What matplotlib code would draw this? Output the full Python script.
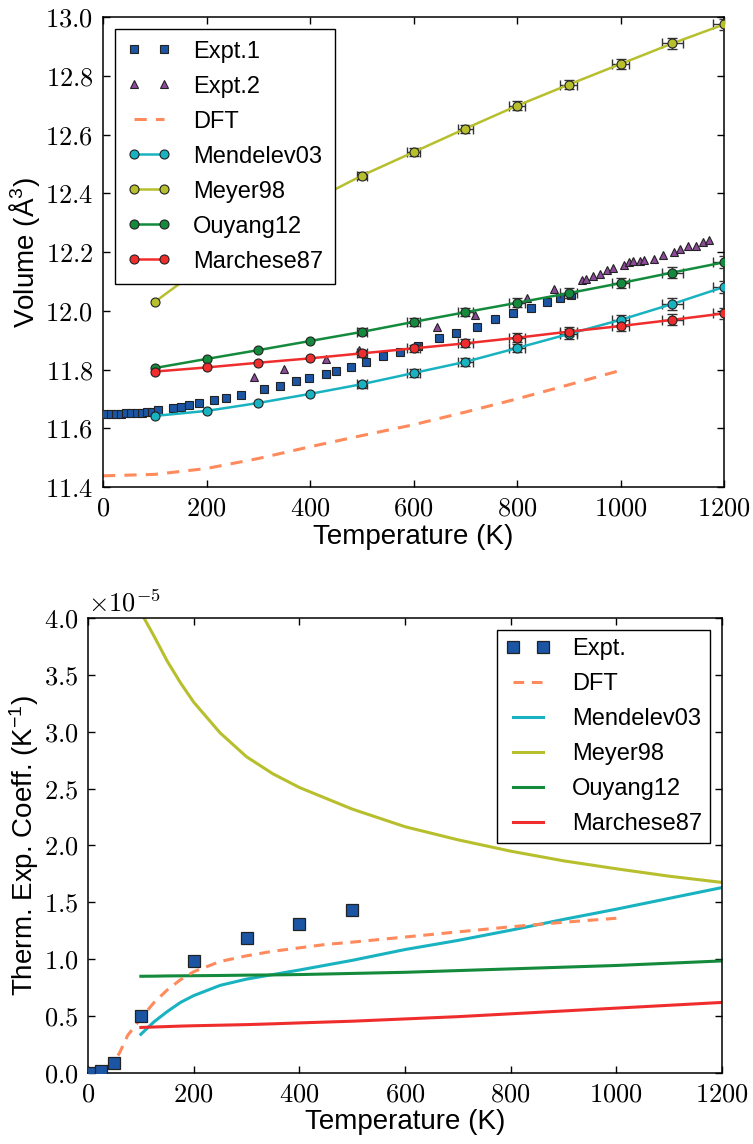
import matplotlib
matplotlib.use("Agg")
import matplotlib.pyplot as plt
import numpy as np
from matplotlib.ticker import FuncFormatter, MultipleLocator

plt.rcParams["font.family"] = ["Liberation Sans", "DejaVu Sans"]
plt.rcParams["mathtext.fontset"] = "cm"

# colours
C_EXPT1 = "#1b55a4"
C_EXPT2 = "#8d4a9a"
C_DFT = "#ff8a5c"
C_MEND = "#19b2c0"
C_MEYER = "#b7bf2d"
C_OUY = "#138a3c"
C_MARCH = "#f02d2d"

# ---------------- volume data ----------------
expt1_T = [5, 15, 25, 35, 45, 55, 65, 75, 85, 95, 107, 135, 151, 167, 186, 215, 238, 266,
           312, 342, 372, 398, 430, 450, 479, 508, 542, 574, 609, 650, 682, 722, 758, 793,
           827, 857, 884, 904]
expt1_V = [11.650, 11.650, 11.650, 11.650, 11.651, 11.651, 11.652, 11.653, 11.655, 11.657,
           11.662, 11.668, 11.673, 11.678, 11.685, 11.696, 11.704, 11.713, 11.734, 11.745,
           11.760, 11.771, 11.786, 11.796, 11.810, 11.826, 11.845, 11.861, 11.881, 11.906,
           11.923, 11.946, 11.971, 11.991, 12.010, 12.031, 12.044, 12.054]

expt2_T = [292, 350, 431, 495, 646, 719, 820, 871, 925, 933, 947, 960, 974, 986, 1007, 1016,
           1024, 1038, 1046, 1065, 1083, 1103, 1115, 1131, 1145, 1160, 1171]
expt2_V = [11.776, 11.802, 11.836, 11.866, 11.946, 11.986, 12.042, 12.075, 12.104, 12.109,
           12.120, 12.125, 12.138, 12.146, 12.157, 12.165, 12.168, 12.170, 12.172, 12.176,
           12.189, 12.200, 12.210, 12.219, 12.221, 12.233, 12.242]

dft_T = [0, 100, 200, 300, 400, 500, 600, 700, 800, 900, 1000]
dft_V = [11.438, 11.443, 11.463, 11.497, 11.537, 11.575, 11.612, 11.655, 11.700, 11.748, 11.797]

model_T = [100, 200, 300, 400, 500, 600, 700, 800, 900, 1000, 1100, 1200]
mendelev_V = [11.642, 11.659, 11.686, 11.717, 11.750, 11.788, 11.826, 11.873, 11.921, 11.969, 12.023, 12.081]
meyer_V = [12.030, 12.160, 12.270, 12.370, 12.460, 12.540, 12.620, 12.698, 12.770, 12.840, 12.910, 12.975]
ouyang_V = [11.805, 11.836, 11.866, 11.897, 11.928, 11.962, 11.995, 12.027, 12.060, 12.094, 12.130, 12.165]
marchese_V = [11.793, 11.807, 11.823, 11.838, 11.855, 11.872, 11.889, 11.908, 11.929, 11.948, 11.969, 11.991]
model_Terr = [0, 0, 0, 0, 10, 12, 14, 15, 16, 17, 20, 22]
model_Verr = [0, 0, 0, 0, 0.012, 0.013, 0.014, 0.015, 0.016, 0.017, 0.019, 0.020]

# ---------------- thermal expansion data (units of 1e-5 / K) ----------------
alpha_expt_T = [10, 25, 50, 100, 200, 300, 400, 500]
alpha_expt = [0.0, 0.02, 0.09, 0.50, 0.985, 1.19, 1.31, 1.43]

alpha_dft_T = [0, 25, 50, 60, 75, 100, 125, 150, 175, 200, 250, 300, 350, 400, 450, 500,
               600, 700, 800, 900, 1000]
alpha_dft = [0.0, 0.015, 0.10, 0.18, 0.33, 0.48, 0.62, 0.73, 0.82, 0.89, 0.98, 1.03, 1.07,
             1.10, 1.13, 1.15, 1.195, 1.24, 1.285, 1.325, 1.36]

alpha_T = [100, 125, 150, 175, 200, 250, 300, 350, 400, 500, 600, 700, 800, 900, 1000, 1100, 1200]
alpha_mendelev = [0.34, 0.45, 0.54, 0.62, 0.68, 0.77, 0.825, 0.865, 0.905, 0.99, 1.085,
                  1.165, 1.255, 1.35, 1.44, 1.535, 1.63]
alpha_meyer = [4.05, 3.84, 3.62, 3.43, 3.26, 2.99, 2.78, 2.63, 2.51, 2.32, 2.165, 2.05,
               1.95, 1.865, 1.795, 1.73, 1.675]
alpha_ouyang = [0.85, 0.851, 0.853, 0.854, 0.855, 0.857, 0.86, 0.862, 0.865, 0.875, 0.885,
                0.90, 0.915, 0.93, 0.945, 0.965, 0.985]
alpha_marchese = [0.40, 0.404, 0.408, 0.412, 0.415, 0.42, 0.425, 0.432, 0.44, 0.455, 0.475,
                  0.495, 0.52, 0.545, 0.57, 0.595, 0.62]


def style_axes(ax, ydec):
    ax.tick_params(which="both", direction="in", top=True, right=True,
                   length=5, width=1, labelsize=19, pad=7)
    ax.xaxis.set_major_locator(MultipleLocator(200))
    ax.xaxis.set_major_formatter(FuncFormatter(lambda v, p: f"${v:.0f}$"))
    ax.yaxis.set_major_formatter(FuncFormatter(lambda v, p: f"${v:.{ydec}f}$"))
    for sp in ax.spines.values():
        sp.set_linewidth(1.1)


def add_legend(ax, loc, pad):
    leg = ax.legend(loc=loc, numpoints=2, fontsize=17, fancybox=False, framealpha=1,
                    edgecolor="black", handlelength=1.9, handletextpad=0.9, labelspacing=0.55,
                    borderpad=pad, borderaxespad=0.5)
    leg.get_frame().set_linewidth(1.0)
    leg.set_zorder(10)
    return leg


fig = plt.figure(figsize=(7.53, 11.44), dpi=100)
ax1 = fig.add_axes([0.1368, 0.5743, 0.9615 - 0.1368, 0.9851 - 0.5743])
ax2 = fig.add_axes([0.1169, 0.0621, 0.9588 - 0.1169, 0.4598 - 0.0621])

# top panel: volume
lw = 1.8
mk = dict(marker="o", markersize=6.5, markeredgecolor="#222222", markeredgewidth=0.8)
ax1.plot(expt1_T, expt1_V, "s", color=C_EXPT1, markersize=5.8, markeredgecolor="#222222",
         markeredgewidth=0.8, label="Expt.1", zorder=4)
ax1.plot(expt2_T, expt2_V, "^", color=C_EXPT2, markersize=6, markeredgecolor="#222222",
         markeredgewidth=0.8, label="Expt.2", zorder=4)
ax1.plot(dft_T, dft_V, "--", color=C_DFT, lw=2.2, dashes=(4, 3), label="DFT")
for vals, col, name in [(mendelev_V, C_MEND, "Mendelev03"), (meyer_V, C_MEYER, "Meyer98"),
                        (ouyang_V, C_OUY, "Ouyang12"), (marchese_V, C_MARCH, "Marchese87")]:
    ax1.plot(model_T, vals, "-", color=col, lw=lw, markerfacecolor=col, label=name, zorder=5, **mk)
    sel = [i for i, e in enumerate(model_Terr) if e > 0]
    ax1.errorbar([model_T[i] for i in sel], [vals[i] for i in sel],
                 xerr=[model_Terr[i] for i in sel], yerr=[model_Verr[i] for i in sel],
                 fmt="none", ecolor="#333333", elinewidth=1.0, capsize=3.5, capthick=1.0, zorder=4)

ax1.set_xlim(0, 1200)
ax1.set_ylim(11.4, 13.0)
ax1.yaxis.set_major_locator(MultipleLocator(0.2))
style_axes(ax1, 1)
ax1.set_xlabel("Temperature (K)", fontsize=20, labelpad=2)
ax1.set_ylabel("Volume (Å$\\mathregular{^3}$)", fontsize=20, labelpad=2)
add_legend(ax1, "upper left", 0.5)

# bottom panel: thermal expansion coefficient
lw2 = 2.2
ax2.plot(alpha_expt_T, alpha_expt, "s", color=C_EXPT1, markersize=8, markeredgecolor="#222222",
         markeredgewidth=0.9, label="Expt.", zorder=4)
ax2.plot(alpha_dft_T, alpha_dft, "--", color=C_DFT, lw=lw2, dashes=(3.5, 2.5), label="DFT", zorder=3)
ax2.plot(alpha_T, alpha_mendelev, "-", color=C_MEND, lw=lw2, label="Mendelev03")
ax2.plot(alpha_T, alpha_meyer, "-", color=C_MEYER, lw=lw2, label="Meyer98")
ax2.plot(alpha_T, alpha_ouyang, "-", color=C_OUY, lw=lw2, label="Ouyang12")
ax2.plot(alpha_T, alpha_marchese, "-", color=C_MARCH, lw=lw2, label="Marchese87")

ax2.set_xlim(0, 1200)
ax2.set_ylim(0, 4.0)
ax2.yaxis.set_major_locator(MultipleLocator(0.5))
style_axes(ax2, 1)
ax2.text(0.0, 1.003, r"$\times10^{-5}$", transform=ax2.transAxes, ha="left", va="bottom", fontsize=19)
ax2.set_xlabel("Temperature (K)", fontsize=20, labelpad=2)
ax2.set_ylabel("Therm. Exp. Coeff. (K$\\mathregular{^{-1}}$)", fontsize=20, labelpad=2)
add_legend(ax2, "upper right", 0.35)

fig.savefig("out.png", dpi=100)
